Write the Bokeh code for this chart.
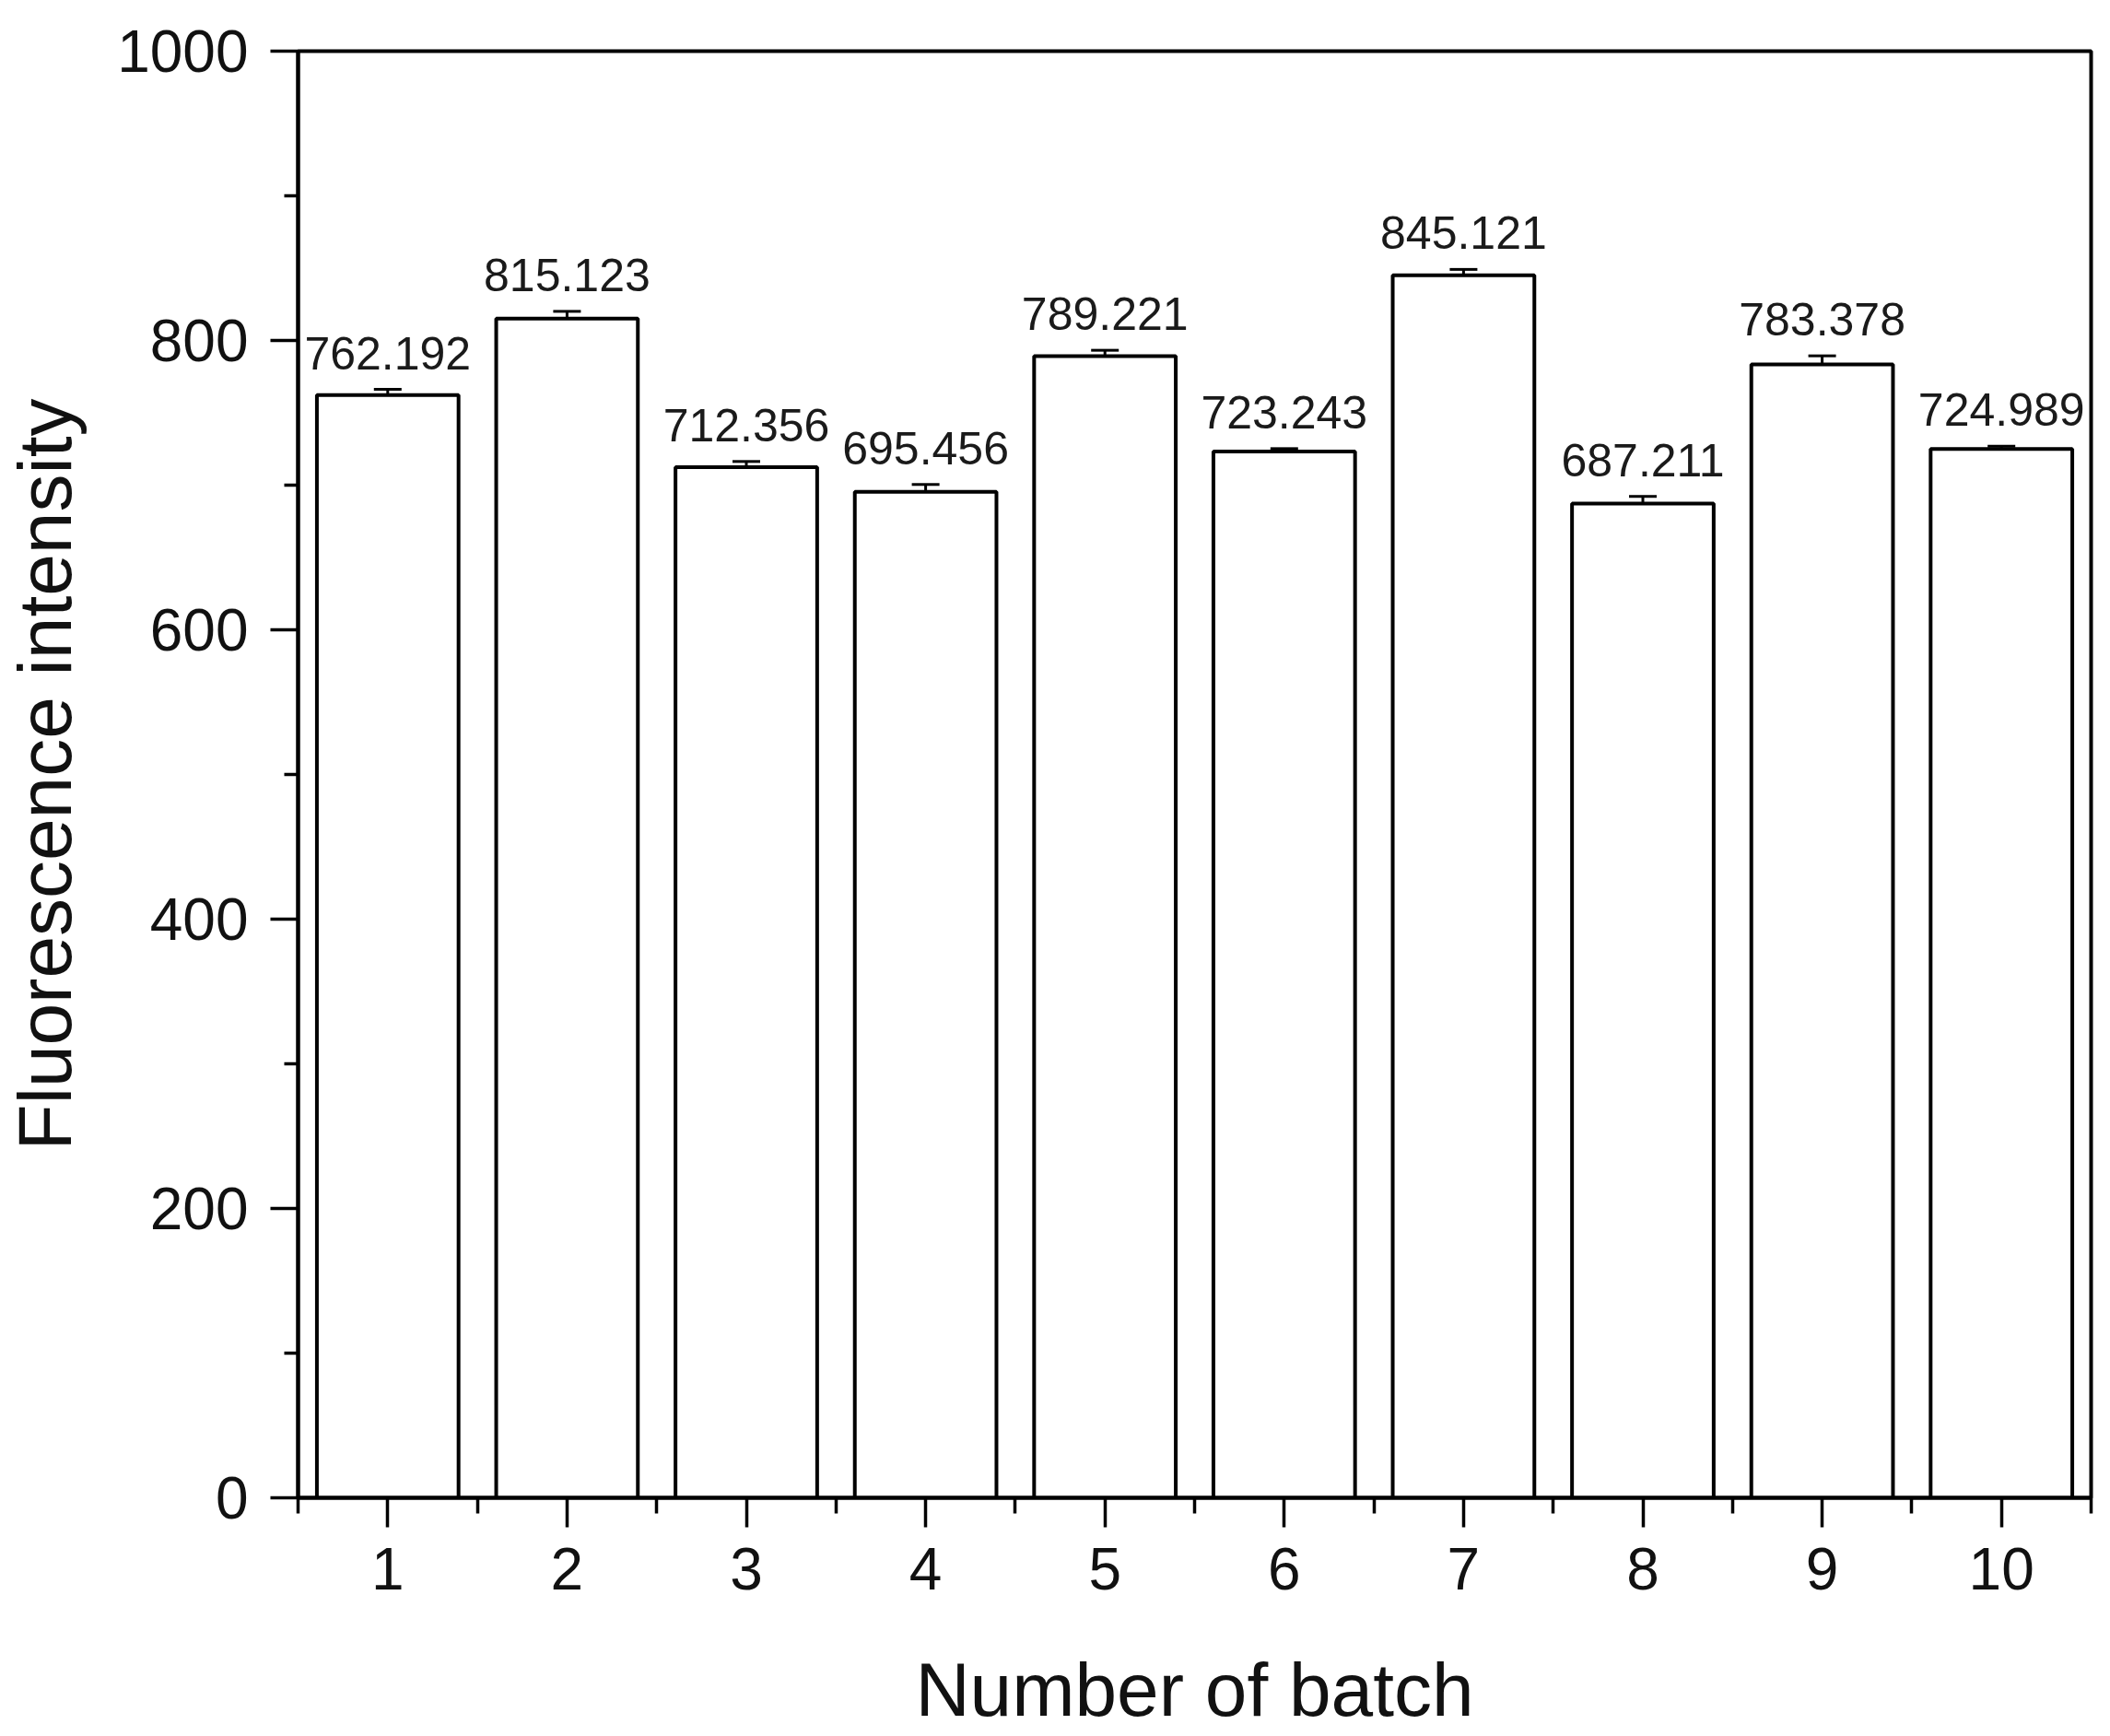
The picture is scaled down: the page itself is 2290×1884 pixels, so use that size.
from bokeh.plotting import figure
from bokeh.models import ColumnDataSource, Range1d, FixedTicker, Whisker, TeeHead
from bokeh.core.properties import value
from bokeh.embed import file_html
from bokeh.resources import INLINE

batches = [1, 2, 3, 4, 5, 6, 7, 8, 9, 10]
intensity = [762.192, 815.123, 712.356, 695.456, 789.221, 723.243, 845.121, 687.211, 783.378, 724.989]
errors = [4, 5, 4, 5, 4, 2, 4, 5, 6, 2]
labels = ["762.192", "815.123", "712.356", "695.456", "789.221", "723.243", "845.121", "687.211", "783.378", "724.989"]
y_ticks = [0, 200, 400, 600, 800, 1000]

FONT = "Liberation Sans"

src = ColumnDataSource(dict(
    x=batches, top=intensity, err=errors, label=labels,
    upper=[v + e for v, e in zip(intensity, errors)],
    lower=[v - e for v, e in zip(intensity, errors)],
))

p = figure(width=2274, height=1868, output_backend="svg", toolbar_location=None,
           x_range=Range1d(0.5, 10.5), y_range=Range1d(0, 1000),
           frame_width=1946, frame_height=1570,
           min_border_left=301, min_border_right=22, min_border_top=55, min_border_bottom=235)
p.background_fill_color = "white"
p.border_fill_color = "white"
p.xgrid.visible = False
p.ygrid.visible = False
p.outline_line_color = "black"
p.outline_line_width = 4
p.outline_line_alpha = 1

p.vbar(x="x", top="top", bottom=0, width=0.79, source=src,
       fill_color="white", line_color="black", line_width=4)

w = Whisker(base="x", upper="upper", lower="lower", source=src,
            line_color="black", line_width=3,
            upper_head=TeeHead(size=30, line_width=3, line_color="black"),
            lower_head=TeeHead(size=30, line_width=3, line_color="black"))
p.add_layout(w)

p.text(x="x", y="upper", text="label", source=src, text_align="center",
       text_baseline="bottom", y_offset=-22, text_font=value(FONT),
       text_font_size="50px", text_color="#1a1a1a")

for ax in (p.xaxis[0], p.yaxis[0]):
    ax.axis_line_width = 4
    ax.major_tick_line_width = 3.5
    ax.minor_tick_line_width = 3.5
    ax.major_tick_in = 0
    ax.minor_tick_in = 0
    ax.major_label_text_font = FONT
    ax.major_label_text_font_size = "64px"
    ax.major_label_text_color = "#111111"
    ax.axis_label_text_font = FONT
    ax.axis_label_text_font_style = "normal"
    ax.axis_label_text_font_size = "82px"
    ax.axis_label_text_color = "#111111"

p.xaxis.ticker = FixedTicker(ticks=batches, minor_ticks=[b - 0.5 for b in batches] + [10.5])
p.xaxis.major_tick_out = 32
p.xaxis.minor_tick_out = 17
p.xaxis.major_label_standoff = 22
p.xaxis.axis_label = "Number of batch"
p.xaxis.axis_label_standoff = 60

p.yaxis.ticker = FixedTicker(ticks=y_ticks, minor_ticks=[100, 300, 500, 700, 900])
p.yaxis.major_tick_out = 30
p.yaxis.minor_tick_out = 15
p.yaxis.major_label_standoff = 24
p.yaxis.axis_label = "Fluorescence intensity"
p.yaxis.axis_label_standoff = 30

open("out.html", "w").write(file_html(p, INLINE))
